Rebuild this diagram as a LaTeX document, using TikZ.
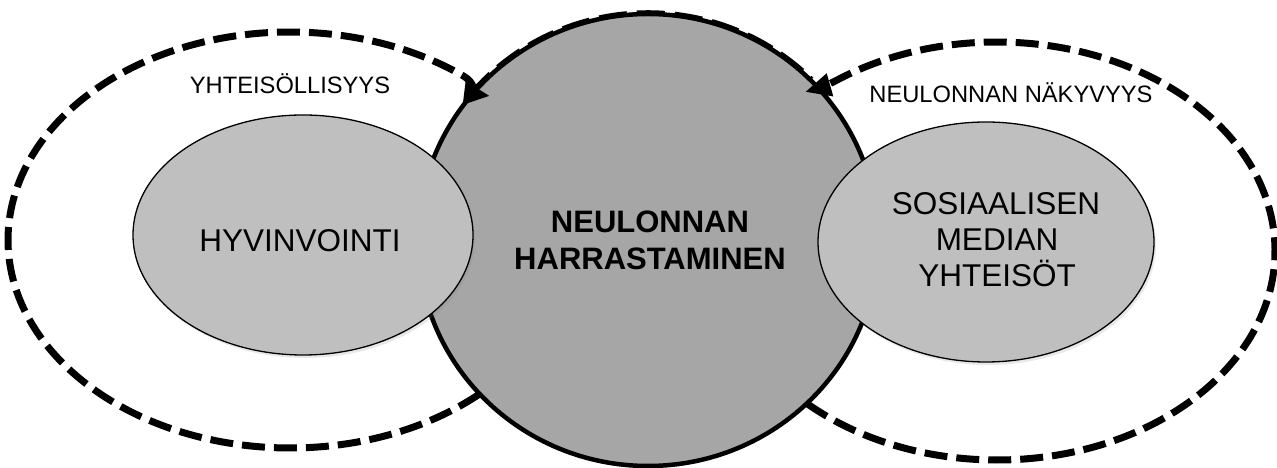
\documentclass[tikz,border=0pt]{standalone}
\usepackage{fontspec}
\setmainfont{Liberation Sans}
\usetikzlibrary{shapes.geometric,arrows.meta,shadows}
\definecolor{circfill}{HTML}{A6A6A6}
\definecolor{ellfill}{HTML}{BFBFBF}
\begin{document}
\begin{tikzpicture}[x=1pt,y=1pt,
  dashline/.style={line width=7pt, dash pattern=on 23pt off 9pt},
  arrowtip/.style={-{Triangle[length=26pt,width=22pt]}},
  smalltext/.style={font=\fontsize{23.7}{28}\selectfont, anchor=base, inner sep=0pt},
  bigtext/.style={font=\fontsize{31.5}{36}\selectfont, anchor=base, inner sep=0pt},
  boldtext/.style={font=\fontsize{31}{37}\selectfont\bfseries, anchor=base, inner sep=0pt},
  innerell/.style={ellipse, draw=black, line width=1.3pt, fill=ellfill, inner sep=0pt,
    drop shadow={shadow xshift=2pt, shadow yshift=-3pt, opacity=0.18}}]
\useasboundingbox (0,0) rectangle (1277,468);

% central circle
\node[ellipse, draw=black, line width=4.5pt, fill=circfill, inner sep=0pt,
      minimum width=460pt, minimum height=452pt] (core) at (648,228) {};

% left dashed curve with arrow
\path (290,228) ++(-48:282 and 208) coordinate (Lstart);
\coordinate (Ltip) at (490,372);
\draw[dashline, arrowtip] (Lstart) arc[start angle=-48, end angle=-308, x radius=282, y radius=208]
  to[out=-30, in=173] (Ltip);

% right dashed curve with arrow
\path (997,217) ++(-133:278 and 209) coordinate (Rstart);
\coordinate (Rtip) at (805,376);
\draw[dashline, arrowtip] (Rstart) arc[start angle=-133, end angle=125, x radius=278, y radius=209]
  to[out=208, in=16] (Rtip);

% dashed arc along the top of the circle
\path (648,228) ++(140:231.5 and 227.5) coordinate (Tstart);
\draw[line width=4.5pt, dash pattern=on 28pt off 10pt] (Tstart) arc[start angle=140, end angle=45, x radius=231.5, y radius=227.5];

% inner ellipses
\node[innerell, minimum width=340pt, minimum height=240pt] (hyv) at (303,233) {};
\node[innerell, minimum width=336pt, minimum height=240pt] (some) at (986,226) {};

% texts
\node[bigtext] (thyv) at (300,216) {HYVINVOINTI};
\node[bigtext] (ts1) at (996,253) {SOSIAALISEN};
\node[bigtext] (ts2) at (997,217) {MEDIAN};
\node[bigtext] (ts3) at (997,181) {YHTEISÖT};
\node[boldtext] (tc1) at (650,235) {NEULONNAN};
\node[boldtext] (tc2) at (650,198) {HARRASTAMINEN};
\node[smalltext] (ty) at (290,374) {YHTEISÖLLISYYS};
\node[smalltext] (tn) at (1011,365) {NEULONNAN NÄKYVYYS};
\end{tikzpicture}
\end{document}
